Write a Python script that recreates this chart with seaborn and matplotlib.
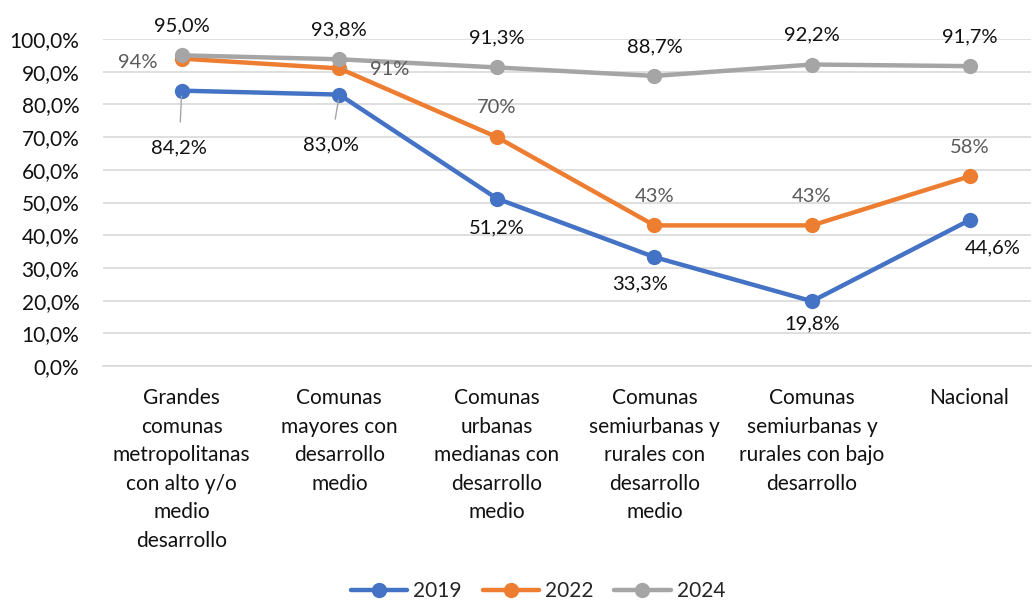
import pandas as pd
import seaborn as sns
import matplotlib.pyplot as plt
from matplotlib.ticker import FuncFormatter

categories = ['Grandes\ncomunas\nmetropolitanas\ncon alto y/o\nmedio\ndesarrollo',
              'Comunas\nmayores con\ndesarrollo\nmedio',
              'Comunas\nurbanas\nmedianas con\ndesarrollo\nmedio',
              'Comunas\nsemiurbanas y\nrurales con\ndesarrollo\nmedio',
              'Comunas\nsemiurbanas y\nrurales con bajo\ndesarrollo',
              'Nacional']
v2019 = [0.842, 0.830, 0.512, 0.333, 0.198, 0.446]
v2022 = [0.94, 0.91, 0.70, 0.43, 0.43, 0.58]
v2024 = [0.950, 0.938, 0.913, 0.887, 0.922, 0.917]
years = ['2019', '2022', '2024']
colors = ['#4472C4', '#ED7D31', '#A5A5A5']

def pct1(v):
    return f'{v*100:.1f}%'.replace('.', ',')

def pct0(v):
    return f'{v*100:.0f}%'

rows = []
for y, vals in zip(years, [v2019, v2022, v2024]):
    for i, v in enumerate(vals):
        rows.append({'pos': i, 'val': v, 'year': y})
df = pd.DataFrame(rows)

sns.set_style('white')
plt.rcParams['font.family'] = ['Lato', 'DejaVu Sans']

fig = plt.figure(figsize=(10.34, 6.01), dpi=100)
ax = fig.add_axes([103/1034, 235/601, (1031-103)/1034, (366-39)/601])

sns.lineplot(data=df, x='pos', y='val', hue='year', palette=colors, marker='o',
             markersize=11, markeredgewidth=0, linewidth=3.2, ax=ax, legend=True,
             clip_on=False, zorder=3)

ax.set_xlim(-0.5, 5.39)
ax.set_ylim(0, 1.0)
ax.set_yticks([i/10 for i in range(11)])
ax.yaxis.set_major_formatter(FuncFormatter(lambda v, p: pct1(v)))
ax.set_xticks(range(len(categories)))
ax.set_xticklabels(categories, fontsize=15, linespacing=1.53, va='top', color='#111111')
ax.tick_params(axis='x', pad=16, length=0)
ax.tick_params(axis='y', labelsize=15, length=0, pad=17, labelcolor='#111111')
ax.set_xlabel('')
ax.set_ylabel('')
ax.grid(axis='y', color='#D9D9D9', linewidth=1.2)
for s in ['left', 'right', 'top']:
    ax.spines[s].set_visible(False)
ax.spines['bottom'].set_color('#D9D9D9')
ax.spines['bottom'].set_linewidth(1.2)

fs = 14.5
dark = '#111111'
gray = '#595959'
lead = dict(arrowstyle='-', color='#A5A5A5', lw=1)

# 2024 labels, above
for i, v in enumerate(v2024):
    ax.annotate(pct1(v), (i, v), xytext=(0, 21), textcoords='offset points',
                ha='center', va='center', fontsize=fs, color=dark)

# 2022 labels
ax.annotate(pct0(v2022[0]), (0, v2022[0]), xytext=(-32, -3), textcoords='offset points',
            ha='center', va='center', fontsize=fs, color=gray,
            arrowprops=dict(lead, shrinkA=14, shrinkB=4))
ax.annotate(pct0(v2022[1]), (1, v2022[1]), xytext=(36, -1), textcoords='offset points',
            ha='center', va='center', fontsize=fs, color=gray,
            arrowprops=dict(lead, shrinkA=14, shrinkB=4))
for i in range(2, 6):
    ax.annotate(pct0(v2022[i]), (i, v2022[i]), xytext=(0, 21), textcoords='offset points',
                ha='center', va='center', fontsize=fs, color=gray)

# 2019 labels
ax.annotate(pct1(v2019[0]), (0, v2019[0]), xytext=(-2, -41), textcoords='offset points',
            ha='center', va='center', fontsize=fs, color=dark,
            arrowprops=dict(lead, shrinkA=10, shrinkB=4))
ax.annotate(pct1(v2019[1]), (1, v2019[1]), xytext=(-6, -36), textcoords='offset points',
            ha='center', va='center', fontsize=fs, color=dark,
            arrowprops=dict(lead, shrinkA=10, shrinkB=4))
pos19 = {2: (0, -21), 3: (-10, -19), 4: (0, -16), 5: (17, -20)}
for i, (dx, dy) in pos19.items():
    ax.annotate(pct1(v2019[i]), (i, v2019[i]), xytext=(dx, dy), textcoords='offset points',
                ha='center', va='center', fontsize=fs, color=dark)

handles, labels = ax.get_legend_handles_labels()
ax.legend(handles, labels, loc='center', bbox_to_anchor=(538/1034, 10/601), bbox_transform=fig.transFigure,
          ncol=3, frameon=False, fontsize=15, handlelength=2.7, columnspacing=1.0,
          handletextpad=0.3, borderaxespad=0, borderpad=0)

fig.savefig('out.png', dpi=100)
